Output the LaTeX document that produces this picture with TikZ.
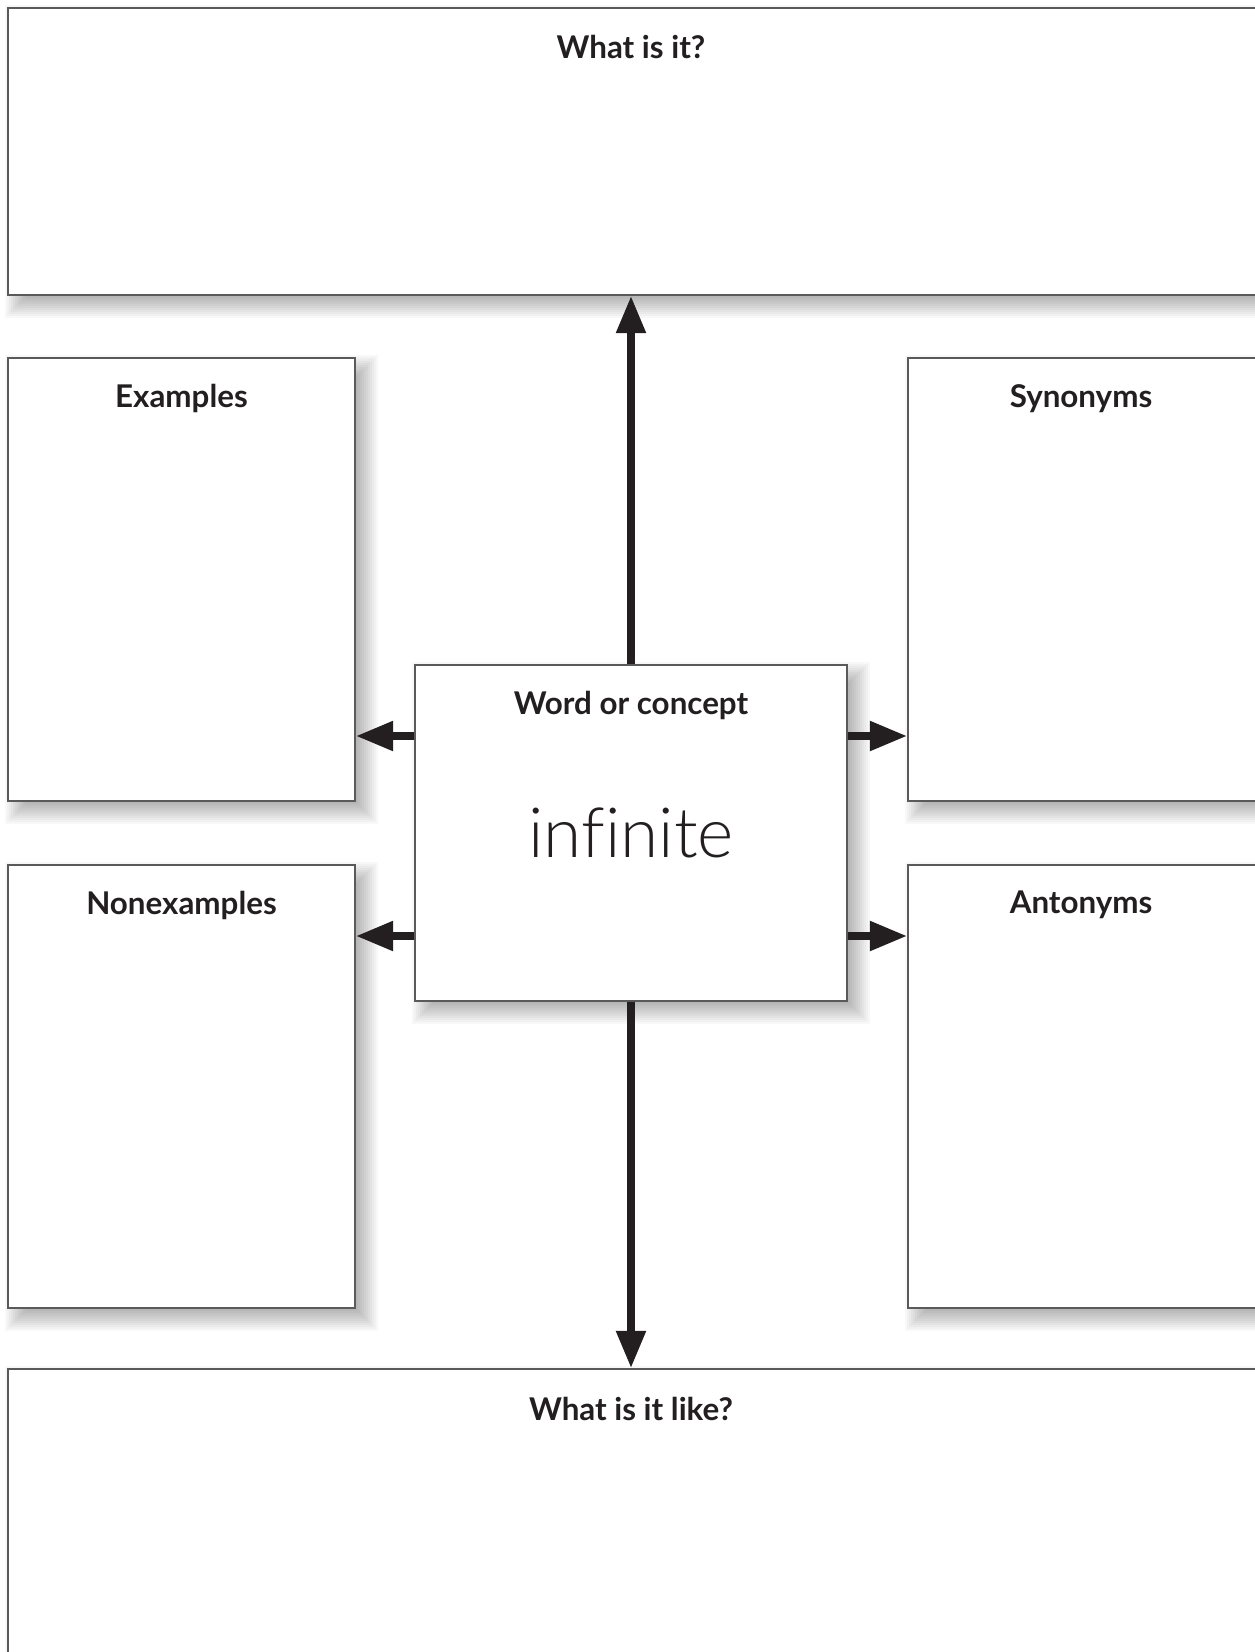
\documentclass[tikz,border=0pt]{standalone}
\usepackage{fontspec}
\setmainfont{Lato}
\newfontfamily\handfont[Ligatures=NoCommon]{Lato Light}
\usetikzlibrary{arrows.meta,fit,calc,backgrounds}
\definecolor{ink}{HTML}{231F20}
\definecolor{edge}{HTML}{5A5A5A}
\begin{document}
\begin{tikzpicture}[x=0.75pt,y=-0.75pt,
  panel/.style={draw=edge,line width=1.1pt,fill=white,inner sep=0pt},
  shadowlayer/.style={fill=black,opacity=0.026},
  heading/.style={font=\bfseries\fontsize{23.5}{28}\selectfont,text=ink,anchor=center},
  arr/.style={draw=ink,line width=6pt,-{Triangle[length=28pt,width=21pt]}}]
\useasboundingbox (0,0) rectangle (1255,1652);
% outer panels
\node[panel,fit={(8,8)(1266,295)}] (top) {};
\node[panel,fit={(8,358)(355,801)}] (examples) {};
\node[panel,fit={(8,865)(355,1308)}] (nonexamples) {};
\node[panel,fit={(908,358)(1266,801)}] (synonyms) {};
\node[panel,fit={(908,865)(1266,1308)}] (antonyms) {};
\node[panel,fit={(8,1369)(1266,1670)}] (bottom) {};
% central panel
\node[panel,fit={(415,665)(847,1001)}] (center) {};
% soft drop shadows, built from stacked translucent rectangles
\begin{scope}[on background layer]
  \fill[white] (0,0) rectangle (1255,1652);
  \foreach \n in {top,examples,nonexamples,synonyms,antonyms,bottom,center}
    \foreach \r in {-12,-10,...,12}
      \fill[shadowlayer] ($(\n.south west)+({10-(\r)},{10+(\r)})$) rectangle ($(\n.north east)+({10+(\r)},{10-(\r)})$);
\end{scope}
% headings
\node[heading] (ttop) at (631,47) {What is it?};
\node[heading] (tex) at ($(examples.north)+(0,41)$) {Examples};
\node[heading] (tnon) at ($(nonexamples.north)+(0,41)$) {Nonexamples};
\node[heading] (tsyn) at ($(synonyms.north)+(-6,41)$) {Synonyms};
\node[heading] (tant) at ($(antonyms.north)+(-6,41)$) {Antonyms};
\node[heading] (tbot) at (631,1409) {What is it like?};
\node[heading] (tword) at ($(center.north)+(0,41)$) {Word or concept};
\node[anchor=base,text=ink,font=\handfont\fontsize{52}{58}\selectfont] (word) at (631,857) {infinite};
% connectors
\coordinate (rowA) at (0,736);
\coordinate (rowB) at (0,936);
\draw[arr] (center.north) -- (center.north |- top.south);
\draw[arr] (center.south) -- (center.south |- bottom.north);
\draw[arr] (center.west |- rowA) -- (examples.east |- rowA);
\draw[arr] (center.west |- rowB) -- (nonexamples.east |- rowB);
\draw[arr] (center.east |- rowA) -- (synonyms.west |- rowA);
\draw[arr] (center.east |- rowB) -- (antonyms.west |- rowB);
\end{tikzpicture}
\end{document}
